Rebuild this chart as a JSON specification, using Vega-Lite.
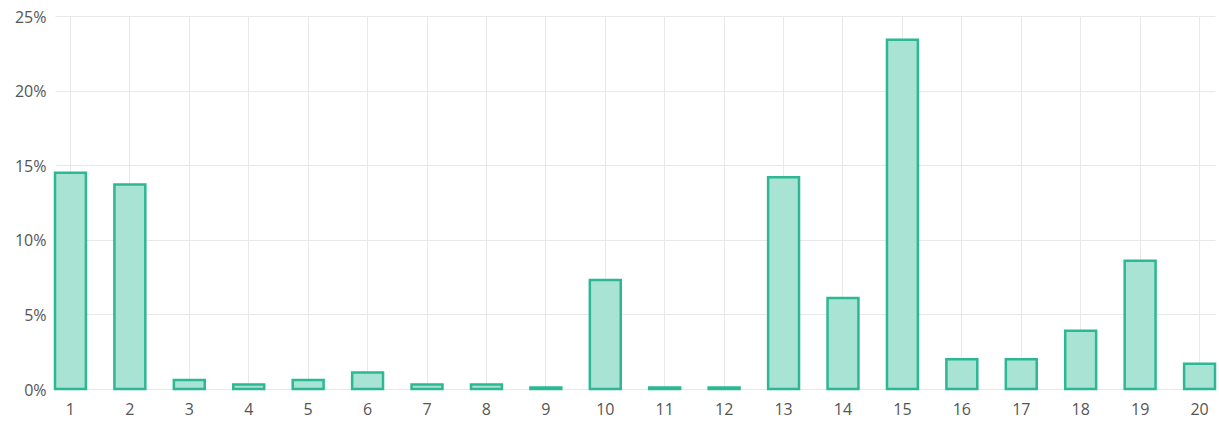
{
  "$schema": "https://vega.github.io/schema/vega-lite/v6.json",
  "autosize": {"type": "none"},
  "padding": {"left": 55, "top": 16, "right": 4, "bottom": 39},
  "width": 1160,
  "height": 373,
  "background": "white",
  "config": {"view": {"stroke": null}},
  "data": {"values": [
    {"k": "1", "v": 14.5}, {"k": "2", "v": 13.7}, {"k": "3", "v": 0.6}, {"k": "4", "v": 0.3},
    {"k": "5", "v": 0.6}, {"k": "6", "v": 1.1}, {"k": "7", "v": 0.3}, {"k": "8", "v": 0.3},
    {"k": "9", "v": 0.1}, {"k": "10", "v": 7.3}, {"k": "11", "v": 0.1}, {"k": "12", "v": 0.1},
    {"k": "13", "v": 14.2}, {"k": "14", "v": 6.1}, {"k": "15", "v": 23.4}, {"k": "16", "v": 2.0},
    {"k": "17", "v": 2.0}, {"k": "18", "v": 3.9}, {"k": "19", "v": 8.6}, {"k": "20", "v": 1.7}
  ]},
  "mark": {"type": "bar", "fill": "#a8e3d4", "stroke": "#2bb892", "strokeWidth": 2.5},
  "encoding": {
    "x": {
      "field": "k", "type": "ordinal", "sort": null,
      "scale": {"paddingInner": 0.48, "paddingOuter": 0},
      "axis": {
        "title": null, "labelAngle": 0, "ticks": false, "domain": false,
        "grid": true, "bandPosition": 0.5, "gridColor": "#e8e8e8",
        "labelFont": "Open Sans", "labelFontSize": 16, "labelColor": "#555",
        "labelPadding": 12
      }
    },
    "y": {
      "field": "v", "type": "quantitative",
      "scale": {"domain": [0, 25], "nice": false},
      "axis": {
        "title": null, "values": [0, 5, 10, 15, 20, 25], "ticks": false, "domain": false,
        "labelExpr": "datum.value + '%'", "gridColor": "#e8e8e8",
        "labelFont": "Open Sans", "labelFontSize": 16, "labelColor": "#555",
        "labelPadding": 9, "labelOffset": 1
      }
    }
  }
}
